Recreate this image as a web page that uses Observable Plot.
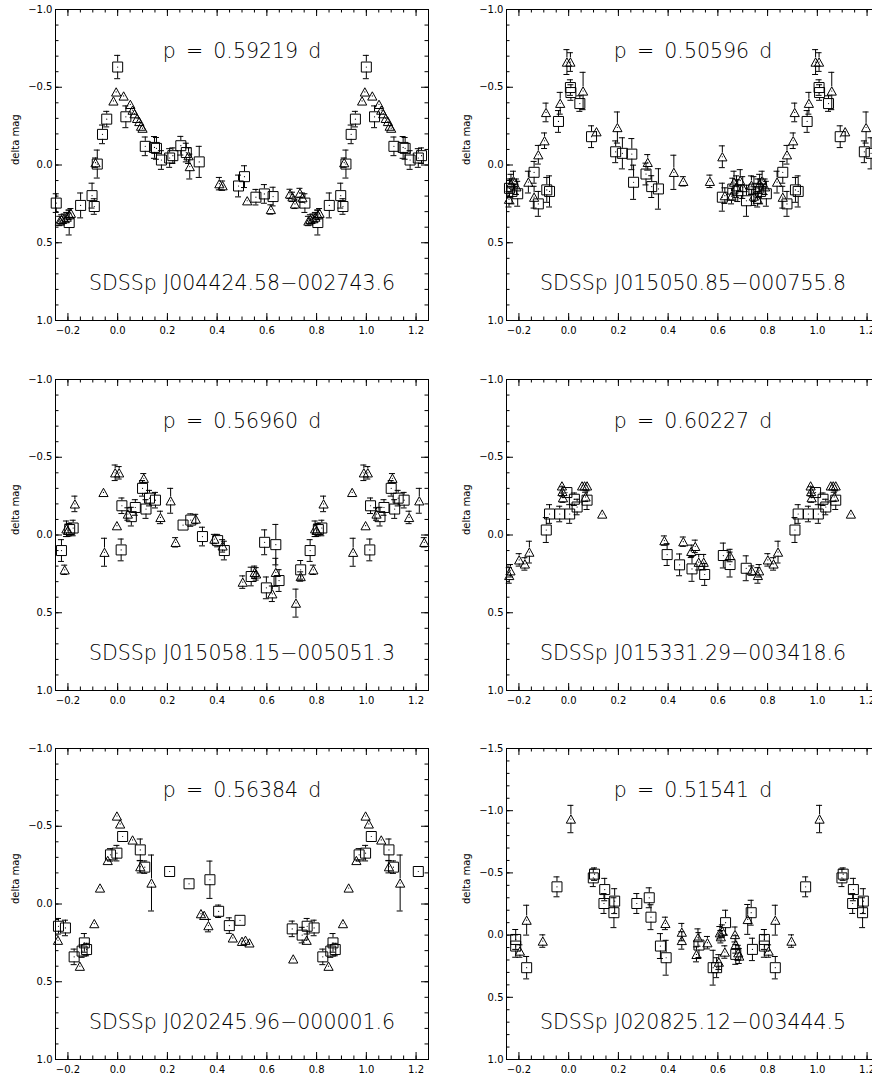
<!DOCTYPE html>
<html>
<head>
<meta charset="utf-8">
<script src="https://cdn.jsdelivr.net/npm/d3@7"></script>
<script src="https://cdn.jsdelivr.net/npm/@observablehq/plot@0.6"></script>
<style>
  html, body { margin: 0; padding: 0; background: #fff; overflow: hidden; }
  #page { position: relative; width: 872px; height: 1078px; overflow: hidden; background: #fff; }
  .panel { position: absolute; width: 440px; height: 350px; }
  .panel svg { max-width: none !important; display: block; }
</style>
</head>
<body>
<div id="page"></div>
<script>
// ---- Light-curve data: [phase (0..1), delta mag, 1-sigma error] ----
// Two data sets per star, drawn as open squares and open triangles.

const names = [
  "SDSSp J004424.58−002743.6",
  "SDSSp J015050.85−000755.8",
  "SDSSp J015058.15−005051.3",
  "SDSSp J015331.29−003418.6",
  "SDSSp J020245.96−000001.6",
  "SDSSp J020825.12−003444.5"
];
const periods = ["0.59219", "0.50596", "0.56960", "0.60227", "0.56384", "0.51541"];

const xTickLabels = [-0.2, 0.0, 0.2, 0.4, 0.6, 0.8, 1.0, 1.2];
const yTickLabels = [-1.0, -0.5, 0.0, 0.5, 1.0];
const yTickLabelsWide = [-1.5, -1.0, -0.5, 0.0, 0.5, 1.0];

const squares1 = [
  [0.753, 0.245, 0.06], [0.805, 0.37, 0.08], [0.851, 0.26, 0.08], [0.897, 0.197, 0.08],
  [0.906, 0.267, 0.05], [0.918, -0.006, 0.09], [0.939, -0.197, 0.06], [0.956, -0.295, 0.05],
  [0.000, -0.63, 0.075], [0.033, -0.31, 0.07], [0.111, -0.12, 0.06], [0.148, -0.113, 0.07],
  [0.156, -0.107, 0.07], [0.176, -0.032, 0.06], [0.209, -0.045, 0.06], [0.222, -0.06, 0.05],
  [0.254, -0.124, 0.06], [0.276, -0.08, 0.06], [0.328, -0.02, 0.10], [0.486, 0.135, 0.07],
  [0.510, 0.075, 0.07], [0.556, 0.207, 0.05], [0.590, 0.186, 0.06], [0.625, 0.203, 0.06]
];
const triangles1 = [
  [0.767, 0.36, 0.03], [0.775, 0.35, 0.03], [0.785, 0.345, 0.03], [0.795, 0.335, 0.03],
  [0.805, 0.32, 0.03], [0.812, 0.31, 0.03], [0.911, -0.015, 0.03], [0.983, -0.412, 0.02],
  [0.994, -0.47, 0.02], [0.024, -0.444, 0.02], [0.051, -0.39, 0.02], [0.060, -0.353, 0.02],
  [0.068, -0.33, 0.02], [0.078, -0.30, 0.02], [0.087, -0.28, 0.02], [0.094, -0.25, 0.02],
  [0.100, -0.237, 0.02], [0.285, -0.06, 0.05], [0.290, 0.01, 0.08], [0.409, 0.12, 0.04],
  [0.422, 0.133, 0.03], [0.521, 0.23, 0.02], [0.616, 0.286, 0.03], [0.693, 0.186, 0.03],
  [0.703, 0.205, 0.03], [0.713, 0.25, 0.03], [0.733, 0.18, 0.03], [0.743, 0.21, 0.03]
];

const squares2 = [
  [0.762, 0.15, 0.06], [0.772, 0.17, 0.08], [0.795, 0.185, 0.08], [0.861, 0.047, 0.07],
  [0.878, 0.25, 0.08], [0.912, 0.16, 0.08], [0.923, 0.17, 0.10], [0.959, -0.28, 0.07],
  [0.007, -0.498, 0.05], [0.009, -0.466, 0.05], [0.045, -0.395, 0.05], [0.092, -0.182, 0.07],
  [0.189, -0.085, 0.07], [0.216, -0.075, 0.10], [0.254, -0.07, 0.10], [0.261, 0.111, 0.11],
  [0.311, 0.058, 0.07], [0.334, 0.139, 0.07], [0.361, 0.154, 0.13], [0.618, 0.207, 0.09],
  [0.660, 0.155, 0.07], [0.680, 0.165, 0.07], [0.715, 0.23, 0.10], [0.745, 0.155, 0.08]
];
const triangles2 = [
  [0.760, 0.22, 0.05], [0.768, 0.12, 0.06], [0.778, 0.10, 0.06], [0.790, 0.14, 0.05],
  [0.838, 0.11, 0.07], [0.861, 0.207, 0.07], [0.878, -0.066, 0.06], [0.903, -0.156, 0.05],
  [0.909, -0.338, 0.06], [0.966, -0.397, 0.07], [0.993, -0.662, 0.08], [0.007, -0.662, 0.06],
  [0.058, -0.476, 0.12], [0.112, -0.214, 0.02], [0.196, -0.241, 0.10], [0.318, -0.017, 0.05],
  [0.423, 0.047, 0.11], [0.461, 0.105, 0.03], [0.568, 0.105, 0.04], [0.618, -0.053, 0.07],
  [0.628, 0.197, 0.05], [0.655, 0.20, 0.05], [0.665, 0.11, 0.07], [0.675, 0.14, 0.07],
  [0.690, 0.10, 0.07], [0.700, 0.145, 0.07], [0.735, 0.13, 0.06], [0.745, 0.20, 0.06]
];

const squares3 = [
  [0.774, 0.10, 0.07], [0.807, -0.035, 0.04], [0.821, -0.045, 0.05], [0.014, 0.096, 0.07],
  [0.017, -0.188, 0.05], [0.055, -0.118, 0.06], [0.071, -0.177, 0.05], [0.100, -0.30, 0.05],
  [0.114, -0.167, 0.06], [0.128, -0.237, 0.05], [0.152, -0.224, 0.05], [0.263, -0.064, 0.03],
  [0.294, -0.096, 0.04], [0.341, 0.01, 0.06], [0.402, 0.036, 0.04], [0.429, 0.10, 0.06],
  [0.537, 0.267, 0.06], [0.591, 0.047, 0.08], [0.598, 0.34, 0.07], [0.636, 0.062, 0.13],
  [0.649, 0.293, 0.07], [0.736, 0.224, 0.06]
];
const triangles3 = [
  [0.787, 0.224, 0.03], [0.794, -0.04, 0.05], [0.800, -0.03, 0.04], [0.828, -0.20, 0.05],
  [0.943, -0.274, 0.02], [0.947, 0.111, 0.09], [0.990, -0.40, 0.05], [0.006, -0.40, 0.04],
  [0.997, -0.06, 0.02], [0.041, -0.135, 0.04], [0.105, -0.365, 0.03], [0.172, -0.113, 0.04],
  [0.213, -0.22, 0.08], [0.233, 0.047, 0.03], [0.314, -0.103, 0.03], [0.389, 0.026, 0.03],
  [0.422, 0.07, 0.04], [0.503, 0.303, 0.04], [0.551, 0.24, 0.04], [0.557, 0.25, 0.04],
  [0.622, 0.378, 0.05], [0.636, 0.24, 0.09], [0.717, 0.438, 0.09], [0.736, 0.267, 0.03]
];

const squares4 = [
  [0.910, -0.032, 0.08], [0.923, -0.135, 0.06], [0.964, -0.135, 0.05], [0.004, -0.135, 0.06],
  [0.993, -0.273, 0.03], [0.023, -0.23, 0.04], [0.034, -0.18, 0.05], [0.074, -0.224, 0.06],
  [0.396, 0.126, 0.07], [0.446, 0.192, 0.07], [0.496, 0.218, 0.08], [0.547, 0.254, 0.07],
  [0.622, 0.132, 0.08], [0.649, 0.19, 0.08], [0.714, 0.214, 0.08]
];
const triangles4 = [
  [0.761, 0.26, 0.05], [0.766, 0.23, 0.04], [0.801, 0.16, 0.04], [0.824, 0.186, 0.04],
  [0.842, 0.11, 0.07], [0.973, -0.316, 0.02], [0.975, -0.28, 0.03], [0.977, -0.24, 0.03],
  [0.054, -0.316, 0.02], [0.064, -0.316, 0.02], [0.074, -0.316, 0.02], [0.068, -0.245, 0.03],
  [0.135, -0.135, 0.02], [0.385, 0.036, 0.03], [0.461, 0.043, 0.03], [0.493, 0.105, 0.04],
  [0.509, 0.073, 0.04], [0.523, 0.175, 0.05], [0.543, 0.175, 0.05], [0.649, 0.132, 0.04],
  [0.736, 0.229, 0.03]
];

const squares5 = [
  [0.762, 0.143, 0.05], [0.790, 0.154, 0.05], [0.825, 0.34, 0.05], [0.857, 0.303, 0.04],
  [0.866, 0.25, 0.06], [0.875, 0.293, 0.04], [0.971, -0.316, 0.04], [0.997, -0.327, 0.05],
  [0.020, -0.434, 0.03], [0.091, -0.348, 0.07], [0.109, -0.237, 0.04], [0.209, -0.209, 0.03],
  [0.287, -0.13, 0.03], [0.371, -0.156, 0.12], [0.406, 0.047, 0.04], [0.449, 0.139, 0.05],
  [0.492, 0.105, 0.03], [0.702, 0.16, 0.05], [0.742, 0.20, 0.05]
];
const triangles5 = [
  [0.760, 0.233, 0.02], [0.848, 0.40, 0.02], [0.906, 0.126, 0.02], [0.929, -0.103, 0.02],
  [0.960, -0.28, 0.02], [0.997, -0.566, 0.02], [0.010, -0.515, 0.02], [0.060, -0.412, 0.02],
  [0.091, -0.24, 0.04], [0.136, -0.135, 0.18], [0.335, 0.062, 0.02], [0.348, 0.073, 0.02],
  [0.365, 0.139, 0.04], [0.463, 0.218, 0.02], [0.500, 0.24, 0.02], [0.514, 0.233, 0.02],
  [0.530, 0.25, 0.02], [0.706, 0.353, 0.02]
];

const squares6 = [
  [0.787, 0.035, 0.08], [0.787, 0.088, 0.09], [0.831, 0.262, 0.09], [0.953, -0.388, 0.08],
  [0.099, -0.46, 0.07], [0.104, -0.49, 0.05], [0.142, -0.254, 0.08], [0.145, -0.366, 0.09],
  [0.182, -0.18, 0.12], [0.185, -0.273, 0.10], [0.274, -0.254, 0.08], [0.324, -0.30, 0.08],
  [0.331, -0.144, 0.10], [0.369, 0.088, 0.10], [0.392, 0.182, 0.14], [0.524, 0.08, 0.10],
  [0.581, 0.262, 0.14], [0.595, 0.262, 0.08], [0.631, -0.10, 0.10], [0.672, 0.155, 0.08],
  [0.734, -0.18, 0.10], [0.739, 0.115, 0.09]
];
const triangles6 = [
  [0.804, 0.128, 0.05], [0.831, -0.12, 0.12], [0.896, 0.048, 0.05], [0.009, -0.933, 0.11],
  [0.389, -0.094, 0.05], [0.455, -0.024, 0.07], [0.455, 0.043, 0.07], [0.514, 0.155, 0.06],
  [0.520, 0.02, 0.07], [0.558, 0.061, 0.05], [0.604, 0.217, 0.06], [0.608, -0.019, 0.05],
  [0.612, 0.013, 0.05], [0.618, -0.032, 0.05], [0.628, 0.136, 0.05], [0.669, -0.005, 0.06],
  [0.672, 0.075, 0.07], [0.682, 0.142, 0.06], [0.686, 0.168, 0.06], [0.720, -0.126, 0.12]
];

// ---- Layout ----
const PHASE_MIN = -0.25, PHASE_MAX = 1.25;
const W = 440, H = 350;
const M = {left: 55, right: 12, top: 9, bottom: 30};
const FRAME_W = W - M.left - M.right;
const FRAME_H = H - M.top - M.bottom;
const colX = [0, 451];
const rowY = [0, 370, 739];
const FONT = "'DejaVu Sans', sans-serif";

const panels = [
  {name: names[0], period: periods[0], yDomain: [-1, 1], yTicks: yTickLabels, sq: squares1, tri: triangles1},
  {name: names[1], period: periods[1], yDomain: [-1, 1], yTicks: yTickLabels, sq: squares2, tri: triangles2},
  {name: names[2], period: periods[2], yDomain: [-1, 1], yTicks: yTickLabels, sq: squares3, tri: triangles3},
  {name: names[3], period: periods[3], yDomain: [-1, 1], yTicks: yTickLabels, sq: squares4, tri: triangles4},
  {name: names[4], period: periods[4], yDomain: [-1, 1], yTicks: yTickLabels, sq: squares5, tri: triangles5},
  {name: names[5], period: periods[5], yDomain: [-1.5, 1], yTicks: yTickLabelsWide, sq: squares6, tri: triangles6}
];

// Phase-folded points are repeated one cycle earlier/later across the shown range.
function unfold(rows) {
  const out = [];
  for (const [p, m, e] of rows) {
    for (const s of [-1, 0, 1]) {
      const ph = p + s;
      if (ph >= PHASE_MIN && ph <= PHASE_MAX) out.push({phase: ph, mag: m, err: e});
    }
  }
  return out;
}

// Open symbols centred on the point (IDL-style square and triangle).
const SQ_R = 5, TRI_R = 4.6;
const squareSymbol = {
  draw(ctx, size) {
    const r = Math.sqrt(size / Math.PI);
    ctx.moveTo(-r, -r); ctx.lineTo(r, -r); ctx.lineTo(r, r); ctx.lineTo(-r, r); ctx.closePath();
  }
};
const triangleSymbol = {
  draw(ctx, size) {
    const r = Math.sqrt(size / Math.PI), h = 0.9 * r;
    ctx.moveTo(0, -h); ctx.lineTo(r, h); ctx.lineTo(-r, h); ctx.closePath();
  }
};

// Error bars stop at the symbol outline and end in short caps.
function errorBars(data, k, halfUp, halfDown) {
  const up = data.filter(d => d.err * k > halfUp);
  const down = data.filter(d => d.err * k > halfDown);
  return [
    Plot.ruleX(up, {x: "phase", y1: d => d.mag - d.err, y2: "mag", insetBottom: halfUp, stroke: "#000"}),
    Plot.ruleX(down, {x: "phase", y1: "mag", y2: d => d.mag + d.err, insetTop: halfDown, stroke: "#000"}),
    Plot.ruleY(up, {y: d => d.mag - d.err, x1: "phase", x2: "phase", insetLeft: -3, insetRight: -3, stroke: "#000"}),
    Plot.ruleY(down, {y: d => d.mag + d.err, x1: "phase", x2: "phase", insetLeft: -3, insetRight: -3, stroke: "#000"})
  ];
}

function drawPanel(cfg) {
  const [y0, y1] = cfg.yDomain;
  const k = FRAME_H / (y1 - y0);
  const sq = unfold(cfg.sq), tri = unfold(cfg.tri);
  const xMinor = d3.range(-0.25, 1.2501, 0.05);
  const yMinor = d3.range(y0, y1 + 1e-9, 0.1);

  return Plot.plot({
    width: W, height: H,
    marginLeft: M.left, marginRight: M.right, marginTop: M.top, marginBottom: M.bottom,
    style: {fontFamily: FONT, background: "#fff", color: "#000"},
    x: {domain: [PHASE_MIN, PHASE_MAX]},
    y: {domain: [y0, y1], reverse: true},
    marks: [
      // inward ticks on all four sides
      Plot.tickX(xMinor, {x: d => d, insetTop: FRAME_H - 3.5, stroke: "#000"}),
      Plot.tickX(xMinor, {x: d => d, insetBottom: FRAME_H - 3.5, stroke: "#000"}),
      Plot.tickX(xTickLabels, {x: d => d, insetTop: FRAME_H - 7, stroke: "#000"}),
      Plot.tickX(xTickLabels, {x: d => d, insetBottom: FRAME_H - 7, stroke: "#000"}),
      Plot.tickY(yMinor, {y: d => d, insetRight: FRAME_W - 3.5, stroke: "#000"}),
      Plot.tickY(yMinor, {y: d => d, insetLeft: FRAME_W - 3.5, stroke: "#000"}),
      Plot.tickY(cfg.yTicks, {y: d => d, insetRight: FRAME_W - 7, stroke: "#000"}),
      Plot.tickY(cfg.yTicks, {y: d => d, insetLeft: FRAME_W - 7, stroke: "#000"}),
      Plot.axisX(xTickLabels, {tickSize: 0, tickPadding: 6, tickFormat: d3.format(".1f"), fontSize: 10, label: null}),
      Plot.axisY(cfg.yTicks, {tickSize: 0, tickPadding: 3, tickFormat: d3.format(".1f"), fontSize: 10, label: null}),
      Plot.frame({stroke: "#000"}),
      // data
      ...errorBars(sq, k, SQ_R, SQ_R),
      ...errorBars(tri, k, 0.9 * TRI_R, 0.9 * TRI_R),
      Plot.dot(sq, {x: "phase", y: "mag", symbol: squareSymbol, r: SQ_R, stroke: "#000", fill: "none", strokeWidth: 1}),
      Plot.dot(tri, {x: "phase", y: "mag", symbol: triangleSymbol, r: TRI_R, stroke: "#000", fill: "none", strokeWidth: 1}),
      Plot.dot([...sq, ...tri], {x: "phase", y: "mag", r: 0.6, fill: "#000", stroke: null}),
      // labels
      Plot.text([`p\u2002=\u2002${cfg.period}\u2002d`], {text: d => d, frameAnchor: "top", lineAnchor: "middle", dy: 42, fontSize: 20.5, fontWeight: 200, fill: "#000"}),
      Plot.text([cfg.name], {text: d => d, frameAnchor: "bottom", lineAnchor: "middle", dy: -37, fontSize: 20.5, fontWeight: 200, fill: "#000"}),
      Plot.text(["delta mag"], {text: d => d, frameAnchor: "left", dx: -40, rotate: -90, fontSize: 10, fill: "#000"})
    ]
  });
}

const page = document.getElementById("page");
panels.forEach((cfg, i) => {
  const div = document.createElement("div");
  div.className = "panel";
  div.style.left = colX[i % 2] + "px";
  div.style.top = rowY[Math.floor(i / 2)] + "px";
  div.appendChild(drawPanel(cfg));
  page.appendChild(div);
});
</script>
</body>
</html>
